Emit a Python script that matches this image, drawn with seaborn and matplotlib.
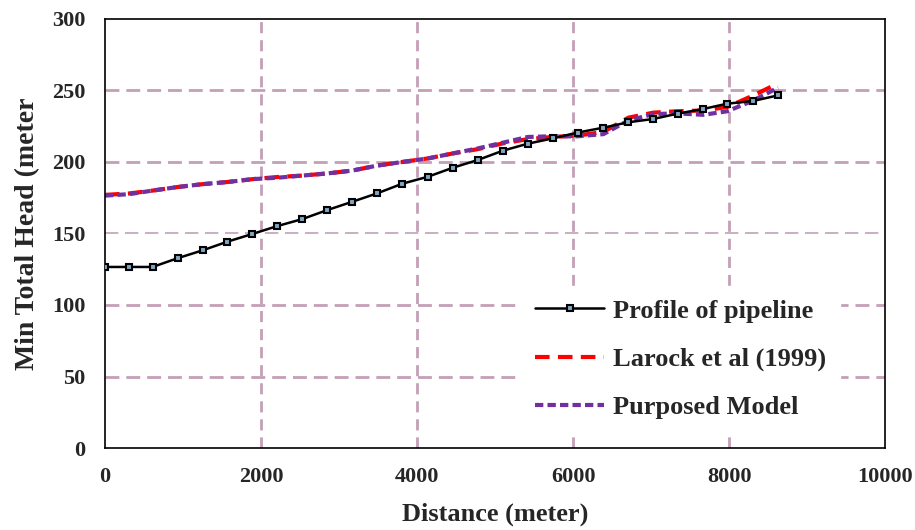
import matplotlib
matplotlib.use('Agg')
import matplotlib.pyplot as plt
import seaborn as sns
import pandas as pd

# Valeurs
distance = [0, 310, 610, 930, 1250, 1570, 1890, 2210, 2530, 2850, 3170, 3490, 3810, 4140,
            4460, 4780, 5100, 5420, 5740, 6060, 6390, 6710, 7030, 7340, 7670, 7980, 8310, 8630]
profile = [126.6, 126.6, 126.6, 132.7, 138.2, 144.3, 149.7, 155.2, 160.1, 166.4, 172.2, 178.1, 184.8, 189.7,
           196.0, 201.4, 207.9, 212.8, 216.5, 220.6, 224.0, 227.8, 230.1, 233.8, 237.1, 240.8, 242.7, 246.6]
larock = [177.0, 178.0, 180.0, 182.5, 184.5, 186.0, 188.0, 189.5, 190.5, 192.0, 194.0, 197.5, 200.0, 202.5,
          206.0, 209.0, 213.0, 216.0, 217.5, 218.5, 221.0, 231.0, 234.5, 235.5, 236.0, 238.5, 246.5, 255.0]
purposed = [176.5, 177.5, 180.0, 182.5, 184.5, 186.0, 188.0, 189.0, 190.5, 192.0, 194.0, 197.5, 200.0, 202.5,
            206.0, 209.5, 213.5, 217.5, 218.0, 218.0, 219.5, 229.0, 233.5, 234.0, 233.0, 235.5, 243.0, 252.0]

labels = ['Profile of pipeline', 'Larock et al (1999)', 'Purposed Model']
x_ticks = [0, 2000, 4000, 6000, 8000, 10000]
y_ticks = [0, 50, 100, 150, 200, 250, 300]

df = pd.DataFrame({'distance': distance, 'profile': profile, 'larock': larock, 'purposed': purposed})

sns.set_theme(style='white')
plt.rcParams['font.family'] = ['Liberation Serif', 'DejaVu Serif']
plt.rcParams['font.weight'] = 'bold'

fig = plt.figure(figsize=(9.15, 5.3), dpi=100)
ax = fig.add_axes([105 / 915, 1 - 448 / 530, 780 / 915, 429 / 530])

# grille pointillée mauve
grid_col = '#c49fb8'
for xv in x_ticks[1:-1]:
    ax.axvline(xv, color=grid_col, lw=2, ls=(0, (4, 2.5)), zorder=0)
for yv in y_ticks[1:-1]:
    if yv == 150:
        ax.axhline(yv, color=grid_col, lw=1.2, ls=(0, (8, 4)), zorder=0)
    else:
        ax.axhline(yv, color=grid_col, lw=2, ls=(0, (5, 2.5)), zorder=0)

sns.lineplot(data=df, x='distance', y='profile', ax=ax, color='black', lw=1.8,
             marker='s', markersize=5, markerfacecolor='#7fa7c4', markeredgecolor='black',
             markeredgewidth=1.5, label=labels[0], zorder=3)
sns.lineplot(data=df, x='distance', y='larock', ax=ax, color='#ff0000', lw=3,
             dashes=(3.5, 2), label=labels[1], zorder=2)
sns.lineplot(data=df, x='distance', y='purposed', ax=ax, color='#7030a0', lw=3,
             dashes=(2, 1), label=labels[2], zorder=2)

ax.set_xlim(0, 10000)
ax.set_ylim(0, 300)
ax.set_xticks(x_ticks)
ax.set_yticks(y_ticks)
ax.tick_params(axis='both', length=0, labelsize=16)
ax.tick_params(axis='x', pad=14)
ax.tick_params(axis='y', pad=14)
for lab in ax.get_xticklabels() + ax.get_yticklabels():
    lab.set_fontweight('bold')

ax.set_xlabel('Distance (meter)', fontsize=19, fontweight='bold', labelpad=11)
ax.set_ylabel('Min Total Head (meter', fontsize=20, fontweight='bold', labelpad=9)

for sp in ax.spines.values():
    sp.set_color('black')
    sp.set_linewidth(1.2)

leg = ax.legend(loc='upper left', bbox_to_anchor=(0.535, 0.378), frameon=True, facecolor='white',
                edgecolor='white', framealpha=1, fontsize=19, handlelength=2.6,
                labelspacing=0.94, borderpad=0.5, borderaxespad=0, handletextpad=0.35)
for t in leg.get_texts():
    t.set_fontweight('bold')

fig.savefig('out.png', dpi=100)
